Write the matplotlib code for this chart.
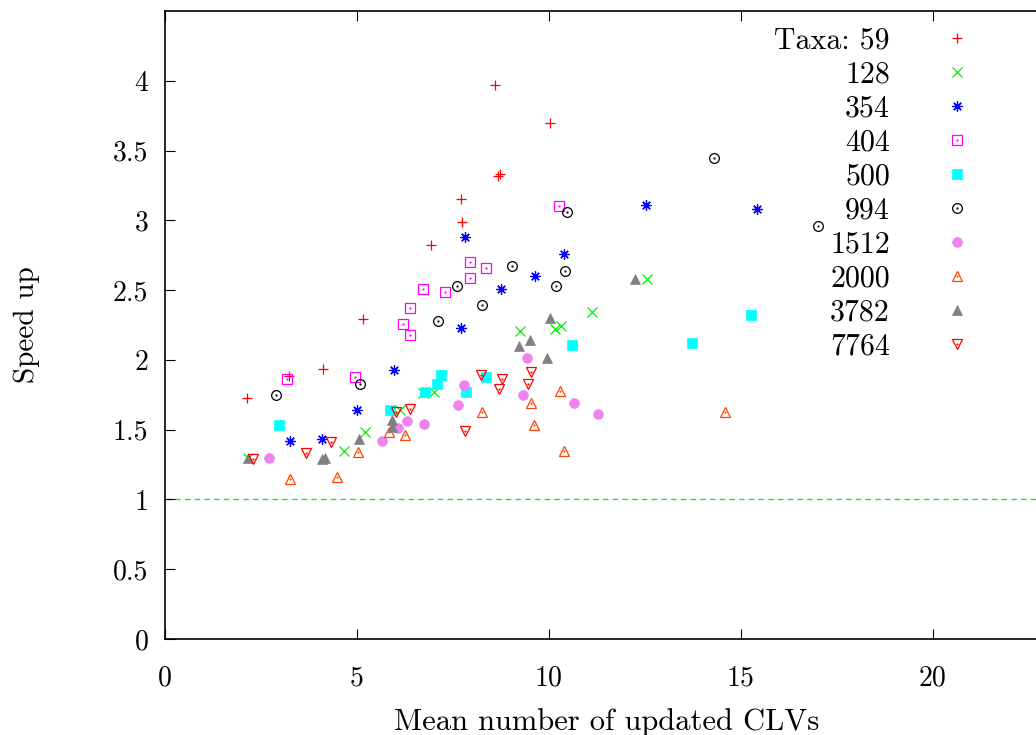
import matplotlib
matplotlib.use("Agg")
import matplotlib.pyplot as plt
from matplotlib.ticker import FormatStrFormatter, FixedLocator
from matplotlib.legend_handler import HandlerTuple

plt.rcParams['font.family'] = ['cmr10', 'DejaVu Serif']
plt.rcParams['axes.unicode_minus'] = False

# Speed up vs mean number of updated CLVs, one series per taxa count
labels = ['Taxa: 59', '128', '354', '404', '500', '994', '1512', '2000', '3782', '7764']
xticks = [0, 5, 10, 15, 20]
yticks = [0, 0.5, 1, 1.5, 2, 2.5, 3, 3.5, 4]

x59 = [2.14, 3.23, 4.11, 5.16, 6.92, 7.73, 7.71, 8.67, 8.72, 8.59, 10.04]
y59 = [1.73, 1.885, 1.935, 2.29, 2.82, 2.99, 3.15, 3.32, 3.33, 3.97, 3.70]

x128 = [2.16, 4.66, 5.21, 6.12, 6.72, 7.01, 9.24, 10.16, 10.31, 11.12, 12.55]
y128 = [1.30, 1.35, 1.48, 1.64, 1.76, 1.77, 2.21, 2.22, 2.24, 2.34, 2.58]

x354 = [3.26, 4.09, 5.00, 5.96, 7.71, 8.74, 7.81, 9.65, 10.39, 12.52, 15.43]
y354 = [1.42, 1.43, 1.64, 1.93, 2.23, 2.51, 2.88, 2.60, 2.76, 3.11, 3.08]

x404 = [3.17, 4.95, 6.38, 6.21, 6.39, 6.71, 7.30, 7.95, 7.95, 8.35, 10.25]
y404 = [1.86, 1.88, 2.18, 2.26, 2.37, 2.51, 2.49, 2.59, 2.70, 2.66, 3.10]

x500 = [2.97, 5.86, 6.77, 7.08, 7.18, 7.84, 8.35, 10.60, 13.72, 15.26]
y500 = [1.53, 1.64, 1.77, 1.83, 1.89, 1.77, 1.88, 2.11, 2.12, 2.32]

x994 = [2.89, 5.07, 7.12, 7.60, 8.25, 9.04, 10.19, 10.42, 10.48, 14.30, 17.01]
y994 = [1.75, 1.83, 2.28, 2.53, 2.39, 2.67, 2.53, 2.64, 3.06, 3.45, 2.96]

x1512 = [2.71, 5.65, 6.07, 6.30, 6.74, 7.63, 7.79, 9.43, 9.32, 10.65, 11.28]
y1512 = [1.30, 1.42, 1.51, 1.56, 1.54, 1.68, 1.82, 2.01, 1.75, 1.69, 1.61]

x2000 = [3.26, 4.48, 5.03, 5.83, 6.25, 8.26, 10.29, 9.53, 9.61, 10.39, 14.58]
y2000 = [1.15, 1.16, 1.34, 1.48, 1.46, 1.63, 1.78, 1.69, 1.53, 1.35, 1.63]

x3782 = [2.16, 4.09, 4.17, 5.05, 5.91, 5.91, 9.22, 9.51, 10.03, 9.95, 12.24]
y3782 = [1.30, 1.29, 1.30, 1.43, 1.57, 1.52, 2.10, 2.14, 2.30, 2.01, 2.58]

x7764 = [2.29, 3.67, 4.32, 6.02, 6.38, 8.23, 8.78, 8.70, 7.81, 9.53, 9.45]
y7764 = [1.29, 1.33, 1.41, 1.63, 1.65, 1.89, 1.86, 1.79, 1.49, 1.91, 1.83]

xs = [x59, x128, x354, x404, x500, x994, x1512, x2000, x3782, x7764]
ys = [y59, y128, y354, y404, y500, y994, y1512, y2000, y3782, y7764]

# marker, colour, filled, centre dot
styles = [
    ('+', '#ff0000', False, False),
    ('x', '#00ee00', False, False),
    ((8, 2, 0), '#0000ff', False, False),
    ('s', '#ff00ff', False, True),
    ('s', '#00ffff', True, False),
    ('o', '#000000', False, True),
    ('o', '#ee82ee', True, False),
    ('^', '#ff4500', False, True),
    ('^', '#808080', True, False),
    ('v', '#ff0000', False, True),
]

fig = plt.figure(figsize=(10.36, 7.35), dpi=100)
# the plot border runs a little past the right edge of the picture
ax = fig.add_axes([165 / 1036, 96 / 735, 883 / 1036, 628 / 735])

ax.axhline(1, color='#44cc44', lw=1.0, dashes=(4, 3), zorder=1)

handles = []
for x, y, (m, c, filled, dot) in zip(xs, ys, styles):
    ms = 7.5 if m in ('+', 'x') or isinstance(m, tuple) else 7
    if filled:
        h, = ax.plot(x, y, ls='none', marker=m, ms=ms, color=c, mec=c, mew=0.5)
    else:
        h, = ax.plot(x, y, ls='none', marker=m, ms=ms, color=c,
                     mfc='none', mec=c, mew=0.9)
    if dot:
        d, = ax.plot(x, y, ls='none', marker='.', ms=1.2, color=c)
        handles.append((h, d))
    else:
        handles.append(h)

ax.set_xlim(0, 23)
ax.set_ylim(0, 4.5)
ax.xaxis.set_major_locator(FixedLocator(xticks))
ax.yaxis.set_major_locator(FixedLocator(yticks))
ax.xaxis.set_major_formatter(FormatStrFormatter('%g'))
ax.yaxis.set_major_formatter(FormatStrFormatter('%g'))
ax.tick_params(direction='in', length=7, width=0.8, labelsize=20,
               top=True, right=True)
ax.tick_params(axis='y', pad=12)
ax.tick_params(axis='x', pad=19)
for s in ax.spines.values():
    s.set_linewidth(1.2)

ax.set_xlabel('Mean number of updated CLVs', fontsize=22, labelpad=12)
ax.set_ylabel('Speed up', fontsize=21)
ax.yaxis.set_label_coords(-0.142, 0.5)

ax.legend(handles, labels, handler_map={tuple: HandlerTuple(ndivide=1)},
          loc='upper right', bbox_to_anchor=(972 / 1036, 1 - 27 / 735),
          bbox_transform=fig.transFigure, frameon=False, markerfirst=False,
          fontsize=21.5, handlelength=1.0, handletextpad=1.75, borderpad=0,
          borderaxespad=0, labelspacing=0.22, numpoints=1)

fig.savefig('out.png', dpi=100)
